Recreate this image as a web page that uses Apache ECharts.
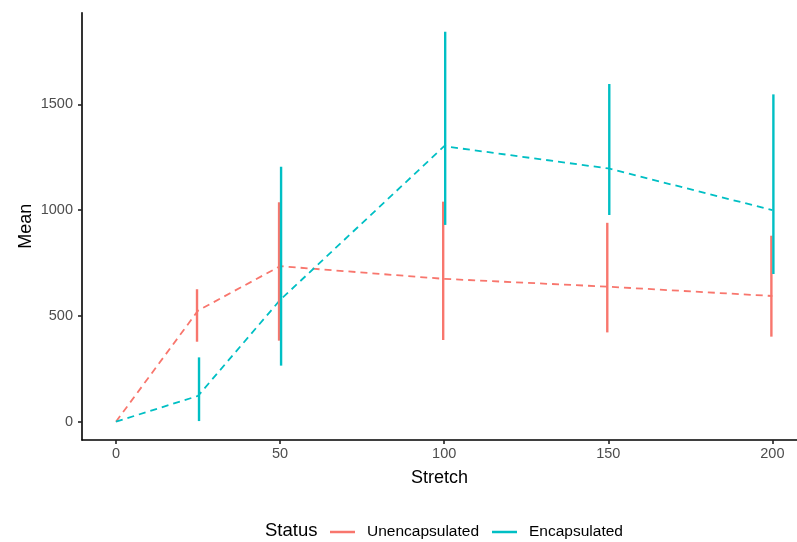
<!DOCTYPE html>
<html>
<head>
<meta charset="utf-8">
<script src="https://cdn.jsdelivr.net/npm/echarts@6/dist/echarts.min.js"></script>
<style>html,body{margin:0;padding:0;background:#fff}#c{width:797px;height:542px}</style>
</head>
<body>
<div id="c"></div>
<script>
var stretch = [0, 25, 50, 100, 150, 200];
var unencMean = [0, 525, 735, 675, 638, 594];
var unencLow = [null, 378, 383, 386, 422, 402];
var unencHigh = [null, 626, 1037, 1040, 940, 879];
var encMean = [0, 122, 575, 1302, 1197, 1000];
var encLow = [null, 3, 265, 930, 977, 698];
var encHigh = [null, 304, 1205, 1843, 1596, 1547];
var xTicks = [0, 50, 100, 150, 200];
var yTicks = [0, 500, 1000, 1500];
var seriesNames = ['Unencapsulated', 'Encapsulated'];
var colors = ['#F8766D', '#00BFC4'];

var FONT = 'Liberation Sans';
function pairs(xs, ys) { return xs.map(function (x, i) { return [x, ys[i]]; }); }
function bars(xs, lo, hi) {
  var out = [];
  xs.forEach(function (x, i) { if (lo[i] != null) out.push([x, lo[i], hi[i]]); });
  return out;
}
function errSeries(name, data, color, shift) {
  return {
    type: 'custom', name: name, data: data, z: 3,
    renderItem: function (params, api) {
      var a = api.coord([api.value(0), api.value(1)]);
      var b = api.coord([api.value(0), api.value(2)]);
      return { type: 'line', shape: { x1: a[0] + shift, y1: a[1], x2: b[0] + shift, y2: b[1] },
        style: { stroke: color, lineWidth: 2.4 } };
    },
    encode: { x: 0, y: [1, 2] }
  };
}
var chart = echarts.init(document.getElementById('c'));
chart.setOption({
  animation: false,
  color: colors,
  grid: { left: 82, right: 0, top: 12.7, bottom: 102, containLabel: false },
  xAxis: {
    type: 'value', min: -10.35, max: 207.5,
    name: 'Stretch', nameLocation: 'middle', nameGap: 29,
    nameTextStyle: { fontFamily: FONT, fontSize: 18, color: '#000' },
    axisLine: { onZero: false, lineStyle: { color: '#000', width: 1.6 } },
    axisTick: { show: true, length: 4, inside: false, lineStyle: { color: '#222', width: 1.6 }, customValues: xTicks },
    axisLabel: { customValues: xTicks, formatter: function (v) { return String(v); }, fontFamily: FONT, fontSize: 14.5, color: '#4D4D4D', margin: 6 },
    splitLine: { show: false }
  },
  yAxis: {
    type: 'value', min: -86.5, max: 1933,
    name: 'Mean', nameLocation: 'middle', nameGap: 47, nameRotate: 90, nameMoveOverlap: false,
    nameTextStyle: { fontFamily: FONT, fontSize: 18, color: '#000' },
    axisLine: { show: true, onZero: false, lineStyle: { color: '#000', width: 1.6 } },
    axisTick: { show: true, length: 4, inside: false, lineStyle: { color: '#222', width: 1.6 }, customValues: yTicks },
    axisLabel: { customValues: yTicks, formatter: function (v) { return String(v); }, fontFamily: FONT, fontSize: 14.5, color: '#4D4D4D', margin: 9 },
    splitLine: { show: false }
  },
  legend: {
    left: 325, top: 519, itemWidth: 25, itemHeight: 2.5, itemGap: 13, icon: 'rect',
    data: seriesNames,
    textStyle: { fontFamily: FONT, fontSize: 15.5, color: '#000', padding: [0, 0, 0, 7] }
  },
  graphic: [{ type: 'text', left: 265, top: 521, style: { text: 'Status', font: '18.5px "Liberation Sans"', fill: '#000' } }],
  series: [
    { type: 'line', name: seriesNames[0], data: pairs(stretch, unencMean), showSymbol: false, z: 2,
      lineStyle: { color: colors[0], width: 1.8, type: [7, 5] } },
    { type: 'line', name: seriesNames[1], data: pairs(stretch, encMean), showSymbol: false, z: 2,
      lineStyle: { color: colors[1], width: 1.8, type: [7, 5] } },
    errSeries(seriesNames[0], bars(stretch, unencLow, unencHigh), colors[0], -1),
    errSeries(seriesNames[1], bars(stretch, encLow, encHigh), colors[1], 1)
  ]
});
</script>
</body>
</html>
